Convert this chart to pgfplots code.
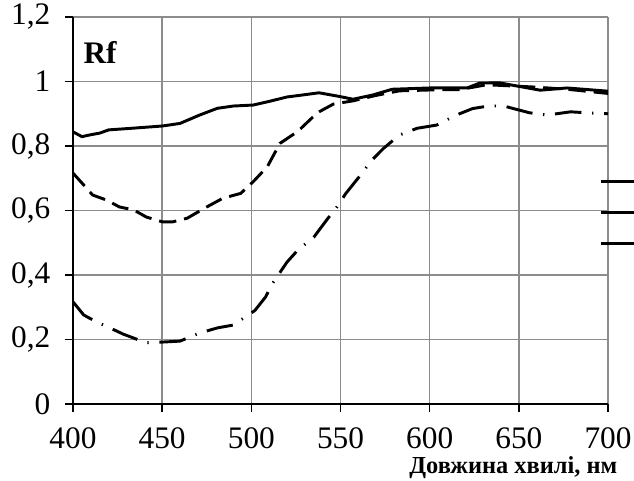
\documentclass[border=0pt]{standalone}
\usepackage{fontspec}
\setmainfont{Liberation Serif}
\usepackage{pgfplots}
\pgfplotsset{compat=1.18}
\definecolor{gridgray}{RGB}{140,140,140}

\begin{document}
\begin{tikzpicture}
% page = 634x480 px at 0.75pt per px, axis box lower-left at (73,404) px
\useasboundingbox (-54.75pt,-57pt) rectangle (420.75pt,303pt);
\begin{axis}[
  at={(0,0)}, anchor=south west,
  scale only axis,
  width=401.25pt, height=290.25pt,
  xmin=400, xmax=700, ymin=0, ymax=1.2,
  xtick={400,450,...,700},
  ytick={0,0.2,0.4,0.6,0.8,1,1.2},
  axis lines*=left,
  axis line style={black, line width=1.1pt},
  grid=major,
  grid style={gridgray, line width=1pt},
  tick align=outside,
  major tick length=6pt,
  tick style={black, line width=1pt},
  font=\fontsize{23.5}{26}\selectfont,
  /pgf/number format/assume math mode=true,
  /pgf/number format/use comma,
  every tick label/.style={font=\fontsize{23.5}{26}\selectfont},
  xticklabel style={yshift=-8pt},
  yticklabel style={xshift=-7.5pt},
  clip=false,
  legend style={at={(axis cs:695,0.695)}, anchor=north west,
    draw=none, fill=none, inner sep=0pt, row sep=21pt,
    nodes={inner sep=0pt}},
  legend image code/.code={\draw[solid, line width=2.25pt] (0pt,0pt) -- (30pt,0pt);},
]
% solid
\addplot[black, line width=2.2pt, solid] coordinates {
  (400,0.844)(405,0.829)(410,0.835)(415,0.840)(420,0.850)(433,0.855)
  (450,0.862)(460,0.870)(471,0.896)(481,0.917)(490,0.924)(501,0.927)
  (509,0.937)(520,0.952)(527,0.957)(538,0.965)(550,0.953)(557,0.945)
  (568,0.958)(579,0.976)(600,0.980)(621,0.980)(628,0.995)(639,0.996)
  (651,0.984)(662,0.973)(677,0.980)(700,0.970)
};
\addlegendentry{}
% dashed
\addplot[black, line width=2.2pt, dash pattern=on 13pt off 6pt] coordinates {
  (400,0.716)(407,0.673)(411,0.648)(419,0.632)(426,0.611)(434,0.602)
  (441,0.580)(450,0.565)(456,0.565)(464,0.576)(475,0.611)(484,0.638)
  (494,0.653)(501,0.689)(509,0.736)(516,0.808)(526,0.845)(537,0.903)
  (546,0.930)(557,0.940)(570,0.957)(583,0.971)(602,0.974)(617,0.975)
  (632,0.990)(658,0.983)(677,0.976)(700,0.963)
};
\addlegendentry{}
% dash-dot
\addplot[black, line width=2.2pt, dash pattern=on 20pt off 8pt on 1pt off 8pt] coordinates {
  (400,0.317)(406,0.276)(413,0.255)(420,0.238)(428,0.217)(441,0.190)
  (450,0.192)(460,0.195)(471,0.220)(481,0.236)(490,0.245)(502,0.290)
  (508,0.332)(512,0.375)(520,0.440)(526,0.477)(535,0.517)(543,0.576)
  (548,0.611)(553,0.653)(562,0.715)(567,0.753)(574,0.792)(583,0.834)
  (593,0.855)(604,0.865)(615,0.896)(624,0.916)(634,0.925)(643,0.922)
  (647,0.916)(656,0.903)(666,0.896)(679,0.906)(688,0.903)(700,0.900)
};
\addlegendentry{}
\node[anchor=base west, font=\fontsize{23.5}{26}\selectfont\bfseries]
  at (rel axis cs:0.011,0.881) {Rf};
\node[anchor=base east, font=\fontsize{18.3}{21}\selectfont\bfseries]
  at (rel axis cs:1.026,-0.18) {Довжина хвилі, нм};
\end{axis}
\end{tikzpicture}
\end{document}
